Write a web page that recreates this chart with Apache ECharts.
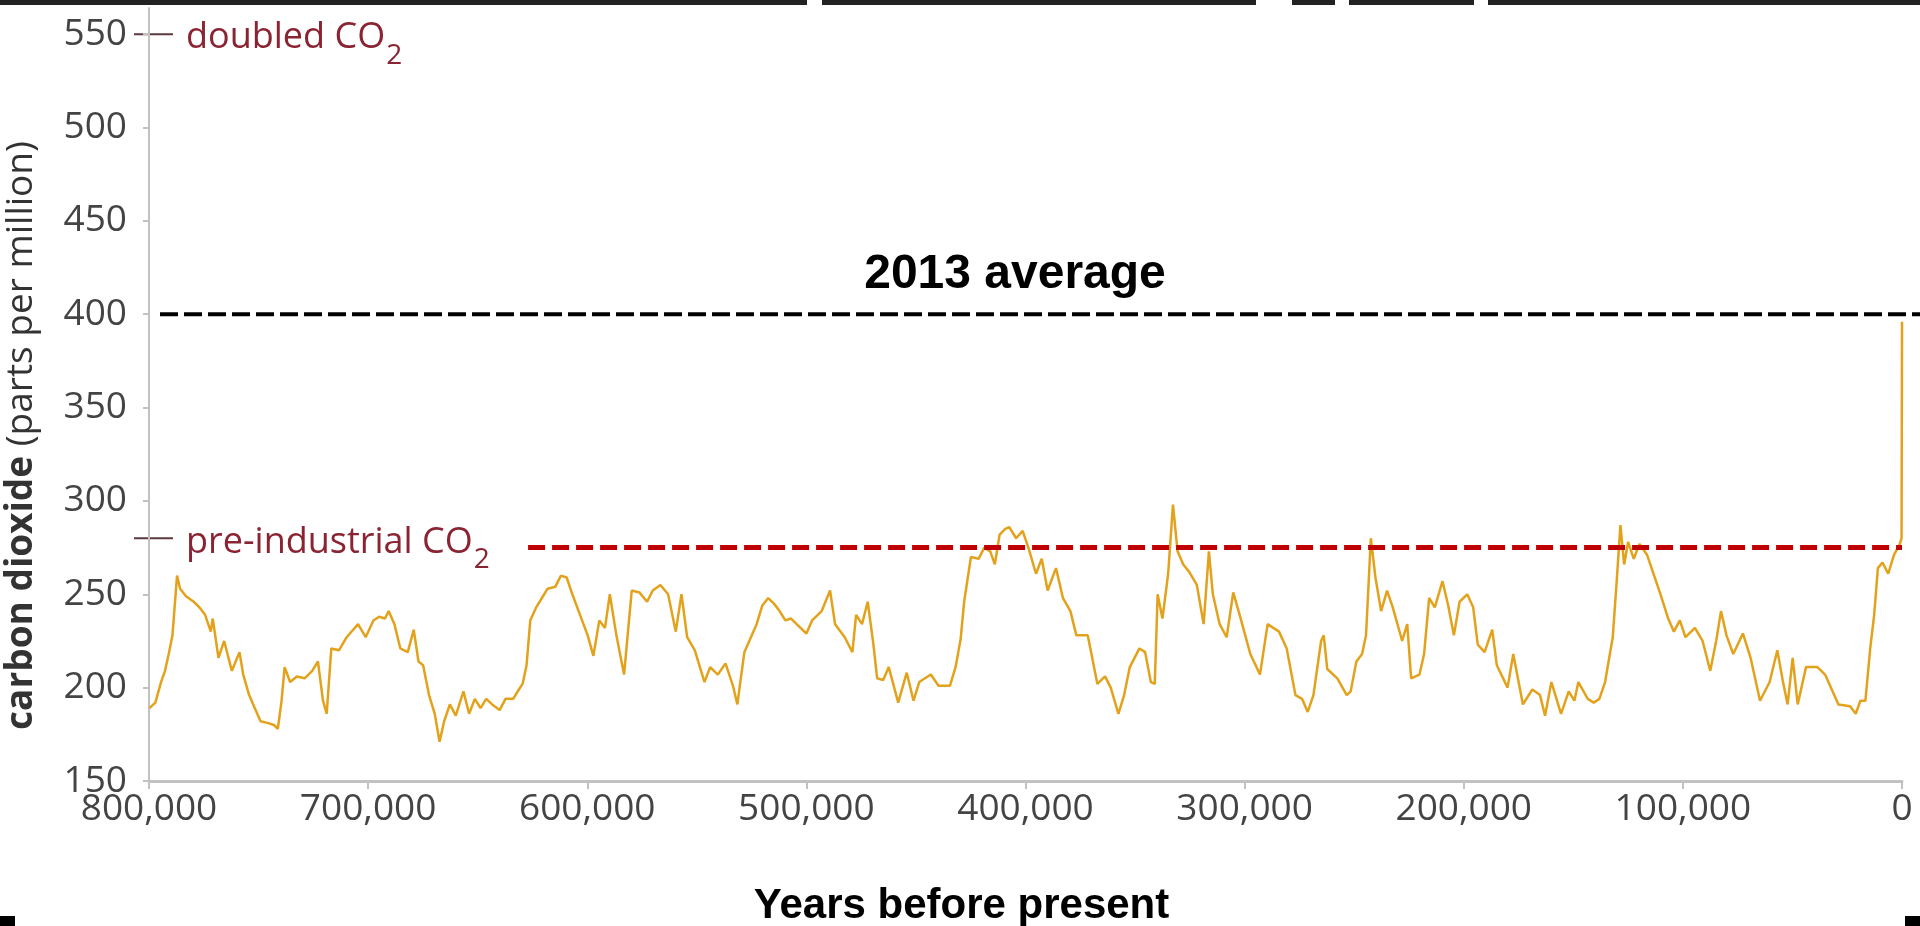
<!DOCTYPE html>
<html>
<head>
<meta charset="utf-8">
<title>Carbon dioxide over 800,000 years</title>
<script src="https://cdn.jsdelivr.net/npm/echarts@6/dist/echarts.min.js"></script>
<style>
  html, body { margin: 0; padding: 0; background: #fff; }
  #chart { width: 1920px; height: 926px; }
</style>
</head>
<body>
<div id="chart"></div>
<script>
// ice core record (years before present / ppm)
var yearsBP = [
  799800, 798900, 797100, 794500, 792700, 791000, 789300, 787200, 785800, 783100,
  779600, 777000, 774400, 771800, 770900, 768300, 765700, 762200, 758700, 757000,
  754300, 751700, 749100, 745600, 743000, 741200, 739500, 738100, 735600, 732500,
  729000, 725500, 722900, 720600, 718900, 716800, 713300, 709800, 704600, 701100,
  697600, 695000, 692300, 690600, 688000, 685300, 681900, 679200, 677000, 674900,
  672200, 669600, 667400, 665300, 662700, 660000, 656500, 653900, 651300, 648700,
  646100, 643400, 640000, 637300, 633800, 631200, 629500, 627700, 626000, 623300,
  620700, 618100, 614600, 612000, 609400, 606800, 603300, 599800, 597200, 594500,
  591900, 589700, 586700, 583200, 579700, 576200, 572700, 570100, 566600, 563100,
  559600, 557000, 554400, 550900, 546500, 543900, 540400, 536900, 533500, 531500,
  528300, 525300, 522700, 520100, 517400, 514800, 512200, 509600, 507000, 503500,
  500000, 497400, 493000, 489200, 486900, 482500, 479000, 477300, 474600, 472000,
  469400, 467700, 465000, 462400, 458100, 454200, 451100, 448500, 443200, 439700,
  434500, 431900, 429600, 428000, 424900, 421400, 418800, 416100, 414000, 411800,
  409200, 407400, 404300, 401300, 398700, 395200, 392600, 389900, 386100, 382900,
  379500, 376800, 371600, 367200, 363700, 361100, 357600, 355000, 352400, 348000,
  345400, 342800, 341000, 339700, 337500, 334900, 332700, 330600, 328000, 325300,
  321800, 318700, 316300, 314500, 311400, 308200, 305200, 301800, 297400, 293000,
  289500, 284300, 280800, 276800, 273800, 271200, 268600, 265100, 263900, 262300,
  257700, 253400, 251600, 249000, 246400, 244600, 242400, 240300, 237700, 235000,
  232400, 228100, 225800, 224000, 220200, 218100, 215800, 213200, 209700, 207100,
  204500, 201900, 198400, 195700, 193600, 190500, 187000, 184900, 180000, 177400,
  173000, 168700, 165200, 162900, 160000, 155600, 152100, 149500, 147700, 143400,
  140700, 138100, 135500, 132000, 130200, 128500, 126800, 125000, 122400, 119800,
  116300, 113700, 110200, 106700, 104100, 101400, 98800, 94500, 91000, 87500,
  84800, 82600, 80100, 77000, 72600, 69100, 64800, 60400, 56900, 54300,
  52200, 49900, 47600, 43800, 38600, 35100, 29000, 23700, 21100, 19000,
  16700, 14500, 12700, 11000, 8900, 6300, 3700, 1000, 200, 0
];
var co2 = [
  189, 190, 192, 203, 209, 218, 228, 260, 253, 249,
  246, 243, 239, 230, 237, 216, 225, 209, 219, 207,
  196, 189, 182, 181, 180, 178, 193, 211, 203, 206,
  205, 209, 214, 193, 186, 221, 220, 227, 234, 227,
  236, 238, 237, 241, 234, 221, 219, 231, 214, 212,
  196, 186, 171, 182, 191, 185, 198, 186, 194, 189,
  194, 191, 188, 194, 194, 199, 202, 212, 236, 243,
  248, 253, 254, 260, 259, 250, 239, 228, 217, 236,
  232, 250, 228, 207, 252, 251, 246, 252, 255, 250,
  230, 250, 227, 220, 203, 211, 207, 213, 201, 191,
  219, 227, 234, 244, 248, 245, 241, 236, 237, 233,
  229, 236, 241, 252, 234, 227, 219, 239, 234, 246,
  223, 205, 204, 211, 192, 208, 193, 203, 207, 201,
  201, 211, 226, 246, 270, 269, 275, 273, 266, 282,
  285, 286, 280, 284, 275, 261, 269, 252, 264, 248,
  241, 228, 228, 202, 206, 200, 186, 196, 211, 221,
  219, 203, 202, 250, 237, 261, 298, 273, 266, 262,
  255, 234, 273, 250, 234, 227, 251, 237, 218, 207,
  234, 230, 221, 196, 194, 187, 196, 225, 228, 210,
  205, 196, 198, 214, 218, 228, 280, 259, 241, 252,
  243, 225, 234, 205, 207, 218, 248, 243, 257, 244,
  228, 246, 250, 243, 223, 219, 231, 212, 200, 218,
  191, 199, 196, 185, 203, 186, 198, 193, 203, 194,
  192, 194, 203, 227, 257, 287, 266, 278, 269, 277,
  271, 262, 250, 237, 230, 236, 227, 232, 225, 209,
  225, 241, 228, 218, 229, 216, 193, 203, 220, 203,
  191, 216, 191, 211, 211, 207, 191, 190, 186, 193,
  193, 221, 239, 264, 267, 261, 271, 277, 280, 396
];

var yTicks = [150, 200, 250, 300, 350, 400, 450, 500, 550];
var xTicks = [800000, 700000, 600000, 500000, 400000, 300000, 200000, 100000, 0];

// reference levels
var avg2013 = 400;
var preIndustrial = 275;
var preIndustrialFrom = 627000;
var doubledMark = 550;
var preIndustrialMark = 280;

var chart = echarts.init(document.getElementById('chart'));

var axisFont = 'Open Sans';
var labelGray = '#444';
var axisGray = '#c2c2c2';

var option = {
    animation: false,
    backgroundColor: '#fff',
    grid: {
        left: 149,
        right: 18,
        top: 8,
        bottom: 145,
        outerBoundsMode: 'none'
    },
    xAxis: {
        type: 'value',
        inverse: true,
        min: 0,
        max: 800000,
        axisLine: { onZero: false, lineStyle: { color: axisGray, width: 3 } },
        axisTick: { show: true, length: 8, customValues: xTicks, lineStyle: { color: axisGray, width: 2 } },
        axisLabel: {
            customValues: xTicks,
            margin: 10,
            fontSize: 37,
            fontFamily: axisFont,
            color: labelGray,
            formatter: function (v) { return v.toLocaleString('en-US'); }
        },
        splitLine: { show: false },
        name: 'Years before present',
        nameLocation: 'middle',
        nameGap: 104,
        nameTextStyle: {
            fontFamily: 'Liberation Sans',
            fontWeight: 'bold',
            fontSize: 42,
            color: '#000',
            padding: [0, 128, 0, 0]
        }
    },
    yAxis: {
        type: 'value',
        min: 150,
        max: 564,
        axisLine: { show: true, onZero: false, lineStyle: { color: axisGray, width: 2 } },
        axisTick: { show: true, length: 6, customValues: yTicks, lineStyle: { color: axisGray, width: 2 } },
        axisLabel: {
            customValues: yTicks,
            margin: 22,
            fontSize: 37,
            fontFamily: axisFont,
            color: labelGray
        },
        splitLine: { show: false },
        name: '{b|carbon dioxide} (parts per million)',
        nameLocation: 'middle',
        nameRotate: 90,
        nameGap: 109,
        nameTextStyle: {
            fontFamily: axisFont,
            fontSize: 37,
            color: '#333',
            padding: [0, 82, 0, 0],
            rich: {
                b: { fontFamily: axisFont, fontSize: 37, fontWeight: 'bold', color: '#333' }
            }
        }
    },
    series: [{
        type: 'line',
        data: yearsBP.map(function (y, i) { return [y, co2[i]]; }),
        showSymbol: false,
        symbol: 'none',
        lineStyle: { color: '#e3a21c', width: 2.5 },
        z: 3,
        markLine: {
            silent: true,
            symbol: 'none',
            label: { show: false },
            lineStyle: { color: '#c00000', width: 5, type: [17, 7], opacity: 1 },
            data: [[
                { coord: [preIndustrialFrom, preIndustrial] },
                { coord: [0, preIndustrial] }
            ]]
        }
    }]
};

chart.setOption(option);

// annotations placed from data values through the axes
var pDbl = chart.convertToPixel({ gridIndex: 0 }, [800000, doubledMark]);
var pPre = chart.convertToPixel({ gridIndex: 0 }, [800000, preIndustrialMark]);
var pAvg = chart.convertToPixel({ gridIndex: 0 }, [800000, avg2013]);
var maroon = '#8a2433';

function noteLine(p) {
    return {
        type: 'line',
        shape: { x1: p[0] - 15, y1: p[1], x2: p[0] + 24, y2: p[1] },
        style: { stroke: '#5e3a40', lineWidth: 2 },
        silent: true
    };
}
function noteText(p, txt) {
    return {
        type: 'text',
        x: p[0] + 37,
        y: p[1] + 4,
        style: {
            text: '{a|' + txt + '}{s|2}',
            verticalAlign: 'middle',
            rich: {
                a: { fontFamily: axisFont, fontSize: 36, fill: maroon },
                s: { fontFamily: axisFont, fontSize: 28, fill: maroon, padding: [36, 0, 0, 1] }
            }
        },
        silent: true
    };
}

chart.setOption({
    graphic: [
        noteLine(pDbl),
        noteText(pDbl, 'doubled CO'),
        noteLine(pPre),
        noteText(pPre, 'pre-industrial CO'),
        {
            type: 'line',
            shape: { x1: pAvg[0] + 11, y1: pAvg[1], x2: 1920, y2: pAvg[1] },
            style: { stroke: '#000', lineWidth: 4, lineDash: [18, 6] },
            silent: true
        },
        {
            type: 'text',
            x: 1015,
            y: pAvg[1] - 39,
            style: {
                text: '2013 average',
                font: 'bold 48px "Liberation Sans"',
                fill: '#000',
                align: 'center',
                verticalAlign: 'middle'
            },
            silent: true
        },
        // dark strip and corner marks of the original image
        { type: 'rect', shape: { x: 0, y: 0, width: 807, height: 5 }, style: { fill: '#222' }, silent: true },
        { type: 'rect', shape: { x: 822, y: 0, width: 434, height: 5 }, style: { fill: '#222' }, silent: true },
        { type: 'rect', shape: { x: 1292, y: 0, width: 43, height: 5 }, style: { fill: '#222' }, silent: true },
        { type: 'rect', shape: { x: 1349, y: 0, width: 125, height: 5 }, style: { fill: '#222' }, silent: true },
        { type: 'rect', shape: { x: 1488, y: 0, width: 432, height: 5 }, style: { fill: '#222' }, silent: true },
        { type: 'rect', shape: { x: 0, y: 916, width: 15, height: 10 }, style: { fill: '#000' }, silent: true },
        { type: 'rect', shape: { x: 1905, y: 916, width: 15, height: 10 }, style: { fill: '#000' }, silent: true }
    ]
});
</script>
</body>
</html>
